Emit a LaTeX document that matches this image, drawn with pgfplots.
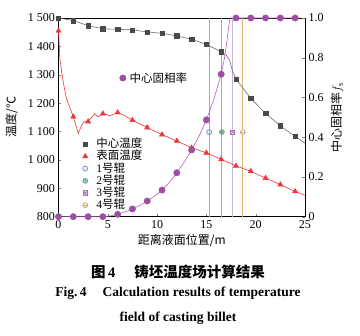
\documentclass[border=0pt]{standalone}
\usepackage{fontspec}
\setmainfont{Liberation Serif}
\newfontfamily\cjk{Noto Sans CJK SC}
\usepackage{pgfplots}
\pgfplotsset{compat=1.18}
\definecolor{cgray}{HTML}{4A4A4A}
\definecolor{cred}{HTML}{F0343C}
\definecolor{cpurp}{HTML}{9B4FA0}
\definecolor{cpurpl}{HTML}{B35FB6}
\definecolor{rblue}{HTML}{86B0DE}
\definecolor{rgreen}{HTML}{6FC79C}
\definecolor{rpurp}{HTML}{C6B6DC}
\definecolor{rorange}{HTML}{E2B673}
\pgfdeclareplotmark{boxx}{%
  \pgfpathrectangle{\pgfpoint{-\pgfplotmarksize}{-\pgfplotmarksize}}{\pgfpoint{2\pgfplotmarksize}{2\pgfplotmarksize}}%
  \pgfusepathqfillstroke
  \pgfpathmoveto{\pgfpoint{-\pgfplotmarksize}{-\pgfplotmarksize}}\pgfpathlineto{\pgfpoint{\pgfplotmarksize}{\pgfplotmarksize}}%
  \pgfpathmoveto{\pgfpoint{-\pgfplotmarksize}{\pgfplotmarksize}}\pgfpathlineto{\pgfpoint{\pgfplotmarksize}{-\pgfplotmarksize}}%
  \pgfusepathqstroke}
\pgfdeclareplotmark{ominus}{%
  \pgfpathcircle{\pgfpointorigin}{\pgfplotmarksize}%
  \pgfusepathqfillstroke
  \pgfpathmoveto{\pgfpoint{-\pgfplotmarksize}{0pt}}\pgfpathlineto{\pgfpoint{\pgfplotmarksize}{0pt}}%
  \pgfusepathqstroke}
\begin{document}
\begin{tikzpicture}
\path[use as bounding box] (0,0) rectangle (360pt,336pt);
\begin{axis}[
  at={(58.5pt,119.3pt)}, anchor=south west, scale only axis,
  width=246.5pt, height=198.7pt,
  xmin=0, xmax=25, ymin=800, ymax=1500, clip=false,
  xtick={0,5,10,15,20,25}, xticklabels={0,5,10,15,20,25},
  ytick={800,900,1000,1100,1200,1300,1400,1500},
  yticklabels={800,900,1\hspace{0.25em}000,1\hspace{0.25em}100,1\hspace{0.25em}200,1\hspace{0.25em}300,1\hspace{0.25em}400,1\hspace{0.25em}500},
  xtick pos=bottom, ytick pos=left, tick align=inside,
  major tick length=3pt,
  tick label style={font=\fontsize{12}{12}\selectfont},
  axis line style={line width=0.6pt},
  xlabel={\cjk 距离液面位置/m},
  xlabel style={font=\fontsize{12}{12}\selectfont, at={(axis description cs:0.5,-0.118)}, anchor=center},
  ylabel={\cjk 温度/℃},
  ylabel style={font=\fontsize{12}{12}\selectfont, at={(axis description cs:-0.19,0.5)}, anchor=center},
  legend cell align=left,
  legend style={at={(0.085,0.405)}, anchor=north west, draw=none, fill=none,
    font=\fontsize{11.5}{11.5}\selectfont, row sep=0.6pt,
    /tikz/every odd column/.append style={column sep=8pt},
    nodes={inner sep=0.5pt, text height=8.8pt, text depth=1.8pt}},
]
% roll vertical lines
\addplot[rblue, line width=1.1pt, forget plot] coordinates {(15.28,800) (15.28,1500)};
\addplot[rgreen, line width=1.1pt, forget plot] coordinates {(16.57,800) (16.57,1500)};
\addplot[rpurp, line width=1.1pt, forget plot] coordinates {(17.65,800) (17.65,1500)};
\addplot[rorange, line width=1.1pt, forget plot] coordinates {(18.69,800) (18.69,1500)};
% center temperature line
\addplot[cgray!80, line width=0.6pt, forget plot] coordinates {
(0,1500) (1.5,1491) (3,1473) (4.5,1462) (6,1460) (7.5,1458) (9,1451) (10.5,1446) (12,1437)
(13.5,1425) (15,1407) (16.5,1381) (17.0,1369) (17.35,1352) (17.65,1312) (18,1285)
(19.5,1217) (21,1164) (22.5,1120) (24,1083) (25,1059)};
% surface temperature line
\addplot[cred, line width=0.6pt, forget plot] coordinates {
(0,1455) (0.15,1352) (0.5,1270) (0.8,1217) (1.2,1180) (1.5,1152) (1.8,1118) (2.0,1093)
(2.3,1118) (2.6,1136) (3.0,1135) (3.4,1152) (3.7,1163) (4.0,1151) (4.5,1163) (5.2,1156)
(6.0,1167) (6.6,1158) (7.5,1140) (9,1114) (10.5,1089) (12,1067) (13.5,1043) (15,1025)
(16.5,1002) (18,979) (19.5,960) (21,936) (22.5,913) (24,889) (25,875)};
% marks
\addplot[only marks, mark=square*, mark size=2.2pt, color=cgray] coordinates {
(0,1500) (1.5,1491) (3,1473) (4.5,1462) (6,1460) (7.5,1458) (9,1451) (10.5,1446) (12,1437)
(13.5,1425) (15,1407) (16.5,1381) (18,1285) (19.5,1217) (21,1164) (22.5,1120) (24,1083)};
\addlegendentry{\cjk 中心温度}
\addplot[only marks, mark=triangle*, mark size=3pt, color=cred] coordinates {
(0,1455) (1.5,1152) (3,1135) (4.5,1163) (6,1167) (7.5,1140) (9,1114) (10.5,1089) (12,1067)
(13.5,1043) (15,1025) (16.5,1002) (18,979) (19.5,960) (21,936) (22.5,913) (24,889)};
\addlegendentry{\cjk 表面温度}
\addplot[only marks, mark=o, mark size=2.4pt, color=rblue!80!blue, mark options={fill=white, line width=0.8pt}] coordinates {(15.28,1098)};
\addlegendentry{1{\cjk 号辊}}
\addplot[only marks, mark=oplus, mark size=2.4pt, color=rgreen!80!black, mark options={fill=white, line width=0.8pt}] coordinates {(16.57,1098)};
\addlegendentry{2{\cjk 号辊}}
\addplot[only marks, mark=boxx, mark size=2.2pt, color=cpurp!80, mark options={fill=white, line width=0.8pt}] coordinates {(17.65,1098)};
\addlegendentry{3{\cjk 号辊}}
\addplot[only marks, mark=ominus, mark size=2.4pt, color=rorange!90!black, mark options={fill=white, line width=0.8pt}] coordinates {(18.69,1098)};
\addlegendentry{4{\cjk 号辊}}
\end{axis}
\begin{axis}[
  at={(58.5pt,119.3pt)}, anchor=south west, scale only axis,
  width=246.5pt, height=198.7pt,
  xmin=0, xmax=25, ymin=0, ymax=1, clip=false,
  axis x line=none, axis y line*=right,
  ytick={0,0.2,0.4,0.6,0.8,1.0}, yticklabels={0,0.2,0.4,0.6,0.8,1.0},
  tick align=inside, major tick length=3pt,
  tick label style={font=\fontsize{12}{12}\selectfont},
  axis line style={line width=0.6pt},
  ylabel={{\cjk 中心固相率}$f_{\mathrm{s}}$},
  ylabel style={font=\fontsize{12}{12}\selectfont, at={(axis description cs:1.13,0.5)}, anchor=center},
  legend style={at={(0.235,0.698)}, anchor=west, draw=none, fill=none,
    font=\fontsize{11.5}{11.5}\selectfont, nodes={inner sep=0.5pt},
    /tikz/every odd column/.append style={column sep=3pt}},
]
\addplot[cpurpl, line width=0.6pt, forget plot] coordinates {
(0,0) (4.6,0) (5.0,0.002) (5.5,0.006) (6,0.012) (6.75,0.024) (7.5,0.039) (8.25,0.057) (9,0.079)
(9.75,0.104) (10.5,0.134) (11.25,0.173) (12,0.221) (12.75,0.275) (13.5,0.336) (14.25,0.405)
(15,0.487) (15.75,0.59) (16.5,0.717) (16.8,0.79) (17.05,0.87) (17.25,0.95) (17.38,1.0) (24,1.0)};
\addplot[only marks, mark=*, mark size=3.2pt, color=cpurp] coordinates {
(0,0) (1.5,0) (3,0) (4.5,0) (6,0.012) (7.5,0.039) (9,0.079) (10.5,0.134) (12,0.221)
(13.5,0.336) (15,0.487) (16.5,0.717) (18,1) (19.5,1) (21,1) (22.5,1) (24,1)};
\addlegendentry{\cjk 中心固相率}
\end{axis}
\node[font=\fontsize{14.5}{15}\selectfont\bfseries] at (178pt,64pt) {{\cjk 图}\,4\hspace{1.3em}{\cjk 铸坯温度场计算结果}};
\node[font=\fontsize{13.5}{14}\selectfont\bfseries] at (178pt,43pt) {Fig.\,4\hspace{1.2em}Calculation results of temperature};
\node[font=\fontsize{13.5}{14}\selectfont\bfseries] at (178pt,18pt) {field of casting billet};
\end{tikzpicture}
\end{document}
